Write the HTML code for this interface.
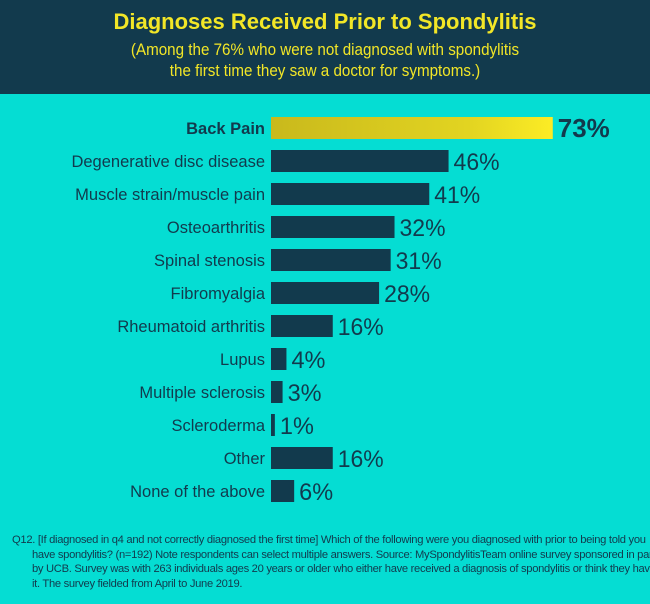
<!DOCTYPE html>
<html><head><meta charset="utf-8"><style>
body{margin:0;width:650px;height:604px;background:#05ddd3;font-family:"Liberation Sans",sans-serif;overflow:hidden;position:relative}
#hdr{position:absolute;left:0;top:0;width:650px;height:94px;background:#123a4d;text-align:center;color:#f2e627}
#t{font-weight:bold;font-size:22px;position:absolute;top:9px;width:100%}
#s{font-size:16.5px;position:absolute;top:40px;width:100%;line-height:21px;transform:scaleX(0.92)}
#note{position:absolute;left:12px;top:533px;width:630px;font-size:11.2px;line-height:14.5px;color:#123a4d;padding-left:20px;text-indent:-20px;letter-spacing:-0.3px}
</style></head><body>
<div id="hdr">
<div id="t">Diagnoses Received Prior to Spondylitis</div>
<div id="s">(Among the 76% who were not diagnosed with spondylitis<br>the first time they saw a doctor for symptoms.)</div>
</div>
<svg id="chart" width="650" height="520" style="position:absolute;left:0;top:0">
<defs><linearGradient id="g" x1="0" x2="1"><stop offset="0" stop-color="#c9b91c"/><stop offset="0.7" stop-color="#e2d421"/><stop offset="1" stop-color="#fcec25"/></linearGradient></defs>
</svg>
<div id="note">Q12. [If diagnosed in q4 and not correctly diagnosed the first time] Which of the following were you diagnosed with prior to being told you have spondylitis? (n=192) Note respondents can select multiple answers. Source: MySpondylitisTeam online survey sponsored in part by UCB. Survey was with 263 individuals ages 20 years or older who either have received a diagnosis of spondylitis or think they have it. The survey fielded from April to June 2019.</div>
<script>
const categories=["Back Pain","Degenerative disc disease","Muscle strain/muscle pain","Osteoarthritis","Spinal stenosis","Fibromyalgia","Rheumatoid arthritis","Lupus","Multiple sclerosis","Scleroderma","Other","None of the above"];
const values=[73,46,41,32,31,28,16,4,3,1,16,6];
const svg=document.getElementById('chart');
const NS='http://www.w3.org/2000/svg';
const x0=271, pxPer=3.86, y0=117, step=33, bh=22;
const xs=v=>v*pxPer;
const ys=i=>y0+i*step;
categories.forEach((c,i)=>{
  const hi=i===0;
  const r=document.createElementNS(NS,'rect');
  r.setAttribute('x',x0);r.setAttribute('y',ys(i));
  r.setAttribute('width',xs(values[i]));r.setAttribute('height',bh);
  r.setAttribute('fill',hi?'url(#g)':'#123a4d');
  
  
  svg.appendChild(r);
  const t=document.createElementNS(NS,'text');
  t.setAttribute('x',265);t.setAttribute('y',ys(i)+bh/2+6);
  t.setAttribute('text-anchor','end');t.setAttribute('fill','#123a4d');
  t.setAttribute('font-size','16.5');
  if(hi)t.setAttribute('font-weight','bold');
  t.textContent=c;
  
  
  svg.appendChild(t);
  const v=document.createElementNS(NS,'text');
  v.setAttribute('x',x0+xs(values[i])+5);v.setAttribute('y',ys(i)+bh/2+9);
  v.setAttribute('fill','#123a4d');v.setAttribute('font-size',hi?'26':'24');
  if(hi)v.setAttribute('font-weight','bold');
  v.setAttribute('textLength',hi?'52':(values[i]>=10?'46':'34'));
  v.setAttribute('lengthAdjust','spacingAndGlyphs');
  v.textContent=values[i]+'%';
  
  
  svg.appendChild(v);
});
</script>
</body></html>
